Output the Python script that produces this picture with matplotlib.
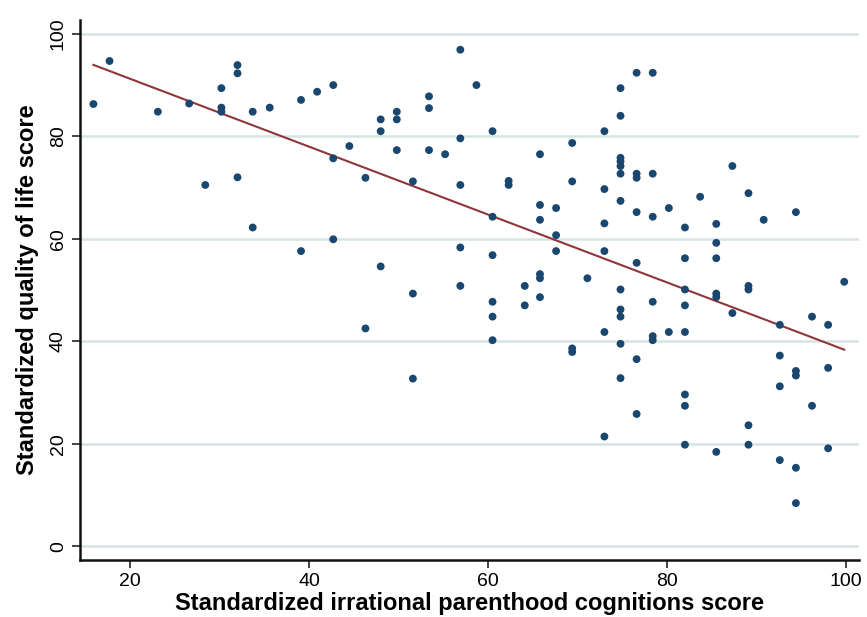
import numpy as np
import matplotlib
matplotlib.use("Agg")
import matplotlib.pyplot as plt

# irrational parenthood cognitions score (x) vs quality of life score (y)
ipc = [15.9, 17.7, 23.1, 26.6, 28.4, 30.2, 30.2, 30.2, 32.0, 32.0, 32.0, 33.7, 33.7,
       35.6, 39.1, 39.1, 40.9, 42.7, 42.7, 42.7,
       44.5, 46.3, 46.3, 48.0, 48.0, 48.0, 49.8, 49.8, 49.8, 51.6, 51.6, 51.6,
       53.4, 53.4, 53.4, 55.2, 56.9, 56.9, 56.9, 56.9, 56.9, 58.7,
       60.5, 60.5, 60.5, 60.5, 60.5, 60.5, 62.3, 62.3, 64.1, 64.1,
       65.8, 65.8, 65.8, 65.8, 65.8, 65.8, 67.6, 67.6, 67.6, 69.4, 69.4, 69.4, 69.4,
       71.1, 73.0, 73.0, 73.0, 73.0, 73.0, 73.0,
       74.8, 74.8, 74.8, 74.8, 74.8, 74.8, 74.8, 74.8, 74.8, 74.8, 74.8, 74.8,
       76.6, 76.6, 76.6, 76.6, 76.6, 76.6, 76.6,
       78.4, 78.4, 78.4, 78.4, 78.4, 78.4, 80.2, 80.2,
       82.0, 82.0, 82.0, 82.0, 82.0, 82.0, 82.0, 82.0, 83.7,
       85.5, 85.5, 85.5, 85.5, 85.5, 85.5, 87.3, 87.3,
       89.1, 89.1, 89.1, 89.1, 89.1, 90.8,
       92.6, 92.6, 92.6, 92.6, 94.4, 94.4, 94.4, 94.4, 94.4,
       96.2, 96.2, 98.0, 98.0, 98.0, 99.8]
qol = [86.3, 94.7, 84.8, 86.4, 70.5, 89.4, 85.6, 84.8, 93.9, 92.3, 72.0, 84.8, 62.2,
       85.6, 87.1, 57.6, 88.7, 90.0, 75.7, 59.9,
       78.1, 71.9, 42.5, 83.3, 81.0, 54.6, 84.8, 83.3, 77.3, 71.2, 49.3, 32.7,
       87.8, 85.5, 77.3, 76.5, 96.9, 79.6, 70.5, 58.3, 50.8, 90.0,
       81.0, 64.3, 56.8, 47.7, 44.8, 40.2, 71.3, 70.5, 50.8, 47.0,
       76.5, 66.6, 63.7, 53.1, 52.3, 48.6, 66.0, 60.7, 57.6, 78.7, 71.2, 38.6, 37.9,
       52.3, 81.0, 69.7, 63.0, 57.6, 41.8, 21.4,
       89.4, 84.0, 75.8, 75.1, 74.2, 72.7, 67.4, 50.1, 46.2, 44.8, 39.5, 32.8,
       92.4, 72.7, 71.9, 65.2, 55.3, 36.5, 25.8,
       92.4, 72.7, 64.3, 47.7, 41.0, 40.2, 66.0, 41.8,
       62.2, 56.2, 50.1, 47.0, 41.8, 29.6, 27.4, 19.8, 68.2,
       62.9, 59.2, 56.2, 49.3, 48.6, 18.4, 74.2, 45.5,
       68.9, 50.8, 50.1, 23.6, 19.8, 63.7,
       43.2, 37.2, 31.2, 16.8, 65.2, 34.2, 33.3, 15.3, 8.4,
       44.8, 27.4, 43.2, 34.8, 19.1, 51.6]

xticks = [20, 40, 60, 80, 100]
yticks = [0, 20, 40, 60, 80, 100]

plt.rcParams["font.family"] = ["Liberation Sans", "DejaVu Sans"]

x = np.array(ipc)
y = np.array(qol)
slope, intercept = np.polyfit(x, y, 1)
xs = np.array([x.min(), x.max()])

fig = plt.figure(figsize=(8.67, 6.17), dpi=100)
ax = fig.add_axes([80 / 867, 1 - 560 / 617, 779 / 867, 540 / 617])

for t in yticks:
    ax.axhline(t, color="#d5e5e5", lw=1.8, zorder=0)

ax.scatter(x, y, s=32, color="#1a476f", edgecolors="none", zorder=3)
ax.plot(xs, intercept + slope * xs, color="#90353b", lw=1.5, zorder=2)

ax.set_xlim(14.4, 101.45)
ax.set_ylim(-2.7, 102.7)
ax.set_xticks(xticks)
ax.set_yticks(yticks)
ax.tick_params(axis="both", labelsize=14, length=6, width=1.2, color="#222222")
for lab in ax.get_yticklabels():
    lab.set_rotation(90)
    lab.set_va("center")

for s in ["top", "right"]:
    ax.spines[s].set_visible(False)
for s in ["left", "bottom"]:
    ax.spines[s].set_linewidth(1.8)
    ax.spines[s].set_color("#111111")

ax.set_xlabel("Standardized irrational parenthood cognitions score",
              fontsize=17, fontweight="bold", labelpad=1)
ax.set_ylabel("Standardized quality of life score",
              fontsize=17, fontweight="bold", labelpad=8)

fig.savefig("out.png", dpi=100)
